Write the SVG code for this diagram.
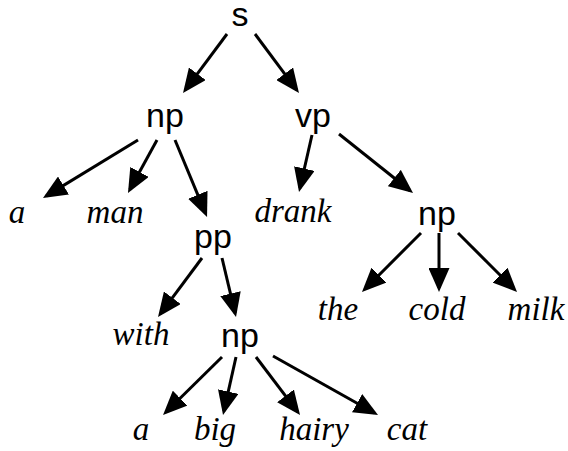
<svg xmlns="http://www.w3.org/2000/svg" width="568" height="451" viewBox="0 0 568 451">
<style>
.cat{font-family:"Liberation Sans",Arial,sans-serif;font-size:34px;fill:#000;text-anchor:middle}
.w{font-family:"Liberation Serif","Times New Roman",serif;font-style:italic;font-size:33px;fill:#000;text-anchor:middle}
#edges line{stroke:#000;stroke-width:3;marker-end:url(#ah)}
</style>
<defs>
<marker id="ah" markerUnits="userSpaceOnUse" markerWidth="24" markerHeight="21" refX="20" refY="10.5" orient="auto">
<path d="M0,0 L24,10.5 L0,21 Z" fill="#000"/>
</marker>
</defs>
<rect width="568" height="451" fill="#fff"/>
<g id="edges">
<line x1="227" y1="34" x2="185.4" y2="89.8"/>
<line x1="255" y1="34" x2="296.6" y2="89.8"/>
<line x1="138" y1="140" x2="46.4" y2="195.9"/>
<line x1="157" y1="140" x2="129.9" y2="189.5"/>
<line x1="175" y1="140" x2="205.5" y2="213.3"/>
<line x1="312" y1="135" x2="299.9" y2="188.1"/>
<line x1="339" y1="134" x2="409.9" y2="190.5"/>
<line x1="421" y1="233" x2="364.8" y2="289.2"/>
<line x1="439" y1="233" x2="439" y2="288"/>
<line x1="458" y1="233" x2="514.2" y2="289.2"/>
<line x1="202" y1="258" x2="160.4" y2="313.8"/>
<line x1="222" y1="258" x2="235.1" y2="313.1"/>
<line x1="222" y1="357" x2="165.9" y2="412.2"/>
<line x1="236" y1="357" x2="223.9" y2="411.1"/>
<line x1="256" y1="357" x2="297.6" y2="411.8"/>
<line x1="273" y1="356" x2="374.5" y2="413"/>
</g>
<g id="s"><text class="cat" x="240" y="26">s</text></g>
<g id="np1"><text class="cat" x="165" y="127">np</text></g>
<g id="vp"><text class="cat" x="313" y="127">vp</text></g>
<g id="a1"><text class="w" x="17" y="223">a</text></g>
<g id="man"><text class="w" x="115" y="223">man</text></g>
<g id="pp"><text class="cat" x="213" y="248">pp</text></g>
<g id="drank"><text class="w" x="293" y="222">drank</text></g>
<g id="np2"><text class="cat" x="437" y="225">np</text></g>
<g id="the"><text class="w" x="338" y="320">the</text></g>
<g id="cold"><text class="w" x="437" y="320">cold</text></g>
<g id="milk"><text class="w" x="536" y="320">milk</text></g>
<g id="with"><text class="w" x="141" y="345">with</text></g>
<g id="np3"><text class="cat" x="240" y="347">np</text></g>
<g id="a2"><text class="w" x="141" y="440">a</text></g>
<g id="big"><text class="w" x="215" y="440">big</text></g>
<g id="hairy"><text class="w" x="314" y="440">hairy</text></g>
<g id="cat"><text class="w" x="407" y="440">cat</text></g>
</svg>
